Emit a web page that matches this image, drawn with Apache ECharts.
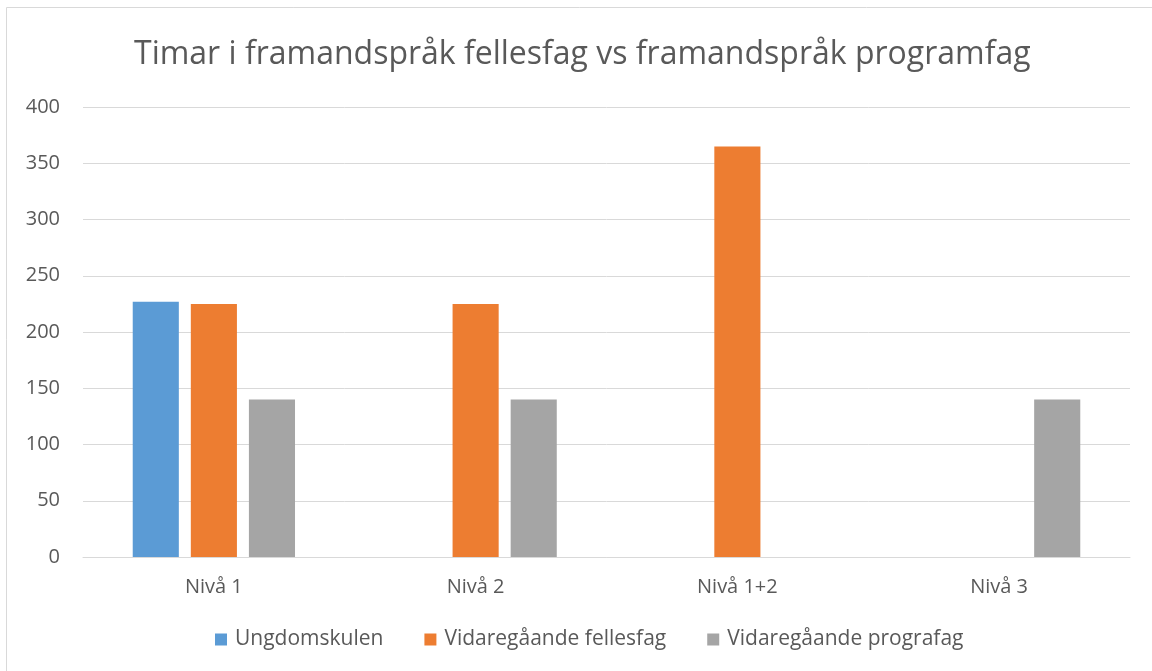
<!DOCTYPE html>
<html><head><meta charset="utf-8">
<script src="https://cdn.jsdelivr.net/npm/echarts@6/dist/echarts.min.js"></script>
<style>html,body{margin:0;padding:0;background:#fff}#c{width:1152px;height:671px}</style>
</head><body><div id="c"></div>
<script>
const categories = ['Nivå 1', 'Nivå 2', 'Nivå 1+2', 'Nivå 3'];
const seriesNames = ['Ungdomskulen', 'Vidaregåande fellesfag', 'Vidaregåande prografag'];
const ungdomskulen = [227, null, null, null];
const fellesfag = [225, 225, 365, null];
const prografag = [140, 140, null, 140];
const colors = ['#5b9bd5', '#ed7d31', '#a5a5a5'];
const font = 'Open Sans';
const chart = echarts.init(document.getElementById('c'));
chart.setOption({
  animation: false,
  color: colors,
  title: {
    text: 'Timar i framandspråk fellesfag vs framandspråk programfag',
    left: 129, top: 34,
    textStyle: { fontFamily: font, fontSize: 32, fontWeight: 'normal', color: '#595959' }
  },
  graphic: [{
    type: 'rect', silent: true,
    shape: { x: 6.5, y: 7.5, width: 1160, height: 700 },
    style: { fill: 'none', stroke: '#d9d9d9', lineWidth: 1 }
  }],
  legend: {
    bottom: 16, left: 210, itemWidth: 12, itemHeight: 12, itemGap: 41,
    icon: 'rect',
    textStyle: { fontFamily: font, fontSize: 21, color: '#595959', padding: [0, 0, 0, 3] }
  },
  grid: { left: 83, right: 22, top: 107, bottom: 114, containLabel: false },
  xAxis: {
    type: 'category', data: categories,
    axisLine: { lineStyle: { color: '#d9d9d9' } },
    axisTick: { show: false },
    axisLabel: { fontFamily: font, fontSize: 20, color: '#595959', margin: 20 }
  },
  yAxis: {
    type: 'value', min: 0, max: 400, interval: 50,
    axisLine: { show: false }, axisTick: { show: false },
    splitLine: { lineStyle: { color: '#d9d9d9' } },
    axisLabel: { fontFamily: font, fontSize: 20, color: '#595959', margin: 23, align: 'right' }
  },
  series: [
    { name: seriesNames[0], type: 'bar', data: ungdomskulen, barGap: '26%', barCategoryGap: '38%' },
    { name: seriesNames[1], type: 'bar', data: fellesfag },
    { name: seriesNames[2], type: 'bar', data: prografag }
  ]
});
</script></body></html>
